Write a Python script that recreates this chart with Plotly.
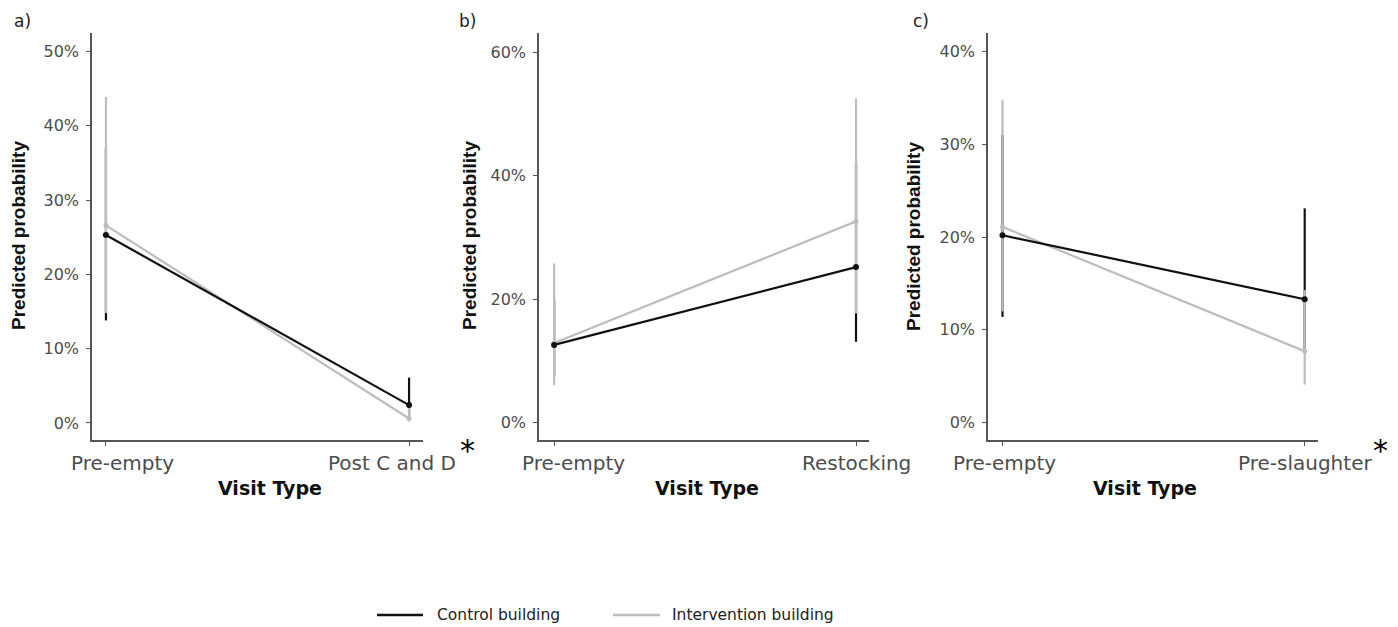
import plotly.graph_objects as go

W, H = 1398, 627

# ---------------- data (predicted probabilities) ----------------
cats_a = ["Pre-empty", "Post C and D"]
ctrl_a = [0.253, 0.024]
ctrl_a_lo = [0.138, 0.010]
ctrl_a_hi = [0.370, 0.061]
int_a = [0.266, 0.006]
int_a_lo = [0.148, 0.002]
int_a_hi = [0.439, 0.020]

cats_b = ["Pre-empty", "Restocking"]
ctrl_b = [0.126, 0.252]
ctrl_b_lo = [0.075, 0.131]
ctrl_b_hi = [0.200, 0.420]
int_b = [0.129, 0.326]
int_b_lo = [0.061, 0.177]
int_b_hi = [0.258, 0.525]

cats_c = ["Pre-empty", "Pre-slaughter"]
ctrl_c = [0.202, 0.133]
ctrl_c_lo = [0.114, 0.075]
ctrl_c_hi = [0.310, 0.231]
int_c = [0.211, 0.077]
int_c_lo = [0.120, 0.041]
int_c_hi = [0.348, 0.143]

yticks_a = [0, 0.1, 0.2, 0.3, 0.4, 0.5]
yticks_b = [0, 0.2, 0.4, 0.6]
yticks_c = [0, 0.1, 0.2, 0.3, 0.4]

series_names = ["Control building", "Intervention building"]

BLACK = "#111111"
GREY = "#bdbdbd"
FONT = "DejaVu Sans"

panels = [
    dict(cats=cats_a, c=ctrl_a, clo=ctrl_a_lo, chi=ctrl_a_hi, i=int_a, ilo=int_a_lo, ihi=int_a_hi,
         yr=[-0.023, 0.525], yt=yticks_a, dom=[92, 423], xr=[-0.046, 1.046], lshift=[17, -17]),
    dict(cats=cats_b, c=ctrl_b, clo=ctrl_b_lo, chi=ctrl_b_hi, i=int_b, ilo=int_b_lo, ihi=int_b_hi,
         yr=[-0.028, 0.631], yt=yticks_b, dom=[539, 869], xr=[-0.05, 1.043], lshift=[19, 0]),
    dict(cats=cats_c, c=ctrl_c, clo=ctrl_c_lo, chi=ctrl_c_hi, i=int_c, ilo=int_c_lo, ihi=int_c_hi,
         yr=[-0.0187, 0.420], yt=yticks_c, dom=[988, 1318], xr=[-0.048, 1.044], lshift=[2, 0]),
]

fig = go.Figure()
ydom = [1 - 440 / H, 1 - 33 / H]
annos = []
shapes = []

for k, p in enumerate(panels):
    n = "" if k == 0 else str(k + 1)
    xa, ya = "x" + n, "y" + n
    # error bars (control below, intervention on top)
    for vals, lo, hi, col in [(p["c"], p["clo"], p["chi"], BLACK), (p["i"], p["ilo"], p["ihi"], GREY)]:
        fig.add_trace(go.Scatter(
            x=p["cats"], y=vals, mode="markers",
            marker=dict(size=1, color="rgba(0,0,0,0)"),
            error_y=dict(type="data", symmetric=False,
                         array=[h - v for h, v in zip(hi, vals)],
                         arrayminus=[v - l for v, l in zip(vals, lo)],
                         width=0, thickness=2.2, color=col),
            showlegend=False, hoverinfo="skip", xaxis=xa, yaxis=ya))
    # intervention line + points
    fig.add_trace(go.Scatter(
        x=p["cats"], y=p["i"], mode="lines+markers", name=series_names[1],
        line=dict(color=GREY, width=2.2), marker=dict(size=5, color=GREY),
        showlegend=False, xaxis=xa, yaxis=ya))
    # control line + points
    fig.add_trace(go.Scatter(
        x=p["cats"], y=p["c"], mode="lines+markers", name=series_names[0],
        line=dict(color=BLACK, width=2.2), marker=dict(size=6, color=BLACK),
        showlegend=False, xaxis=xa, yaxis=ya))

    axis_common = dict(showline=True, linecolor="#555555", linewidth=1.5, ticks="outside",
                       ticklen=4, tickcolor="#555555", tickwidth=1.2,
                       showgrid=False, zeroline=False, automargin=False)
    fig.update_layout(**{
        ("xaxis" + n): dict(domain=[p["dom"][0] / W, p["dom"][1] / W], anchor=ya,
                            type="category", categoryorder="array", categoryarray=p["cats"],
                            range=p["xr"], showticklabels=False, **axis_common),
        ("yaxis" + n): dict(domain=ydom, anchor=xa, range=p["yr"], tickvals=p["yt"],
                            tickformat=".0%", ticklabelstandoff=4,
                            tickfont=dict(family=FONT, size=16, color="#4d4d4d"),
                            **axis_common),
    })
    # category labels (annotations tied to the category positions)
    for cat, sh in zip(p["cats"], p["lshift"]):
        annos.append(dict(text=cat, x=cat, xref=xa, y=1 - 463 / H, yref="paper",
                          xshift=sh, showarrow=False, xanchor="center", yanchor="middle",
                          font=dict(family=FONT, size=20, color="#4d4d4d")))

# panel letters
for txt, px in [("a)", 22), ("b)", 467), ("c)", 921)]:
    annos.append(dict(text=txt, x=px / W, y=1 - 21 / H, xref="paper", yref="paper",
                      showarrow=False, font=dict(family=FONT, size=17, color="#222222"),
                      xanchor="center", yanchor="middle"))
# x titles
for px in [270, 707, 1145]:
    annos.append(dict(text="<b>Visit Type</b>", x=px / W, y=1 - 488 / H, xref="paper", yref="paper",
                      showarrow=False, font=dict(family=FONT, size=19, color="#111111"),
                      xanchor="center", yanchor="middle"))
# y titles
for px in [18, 469, 913]:
    annos.append(dict(text="<b>Predicted probability</b>", x=px / W, y=1 - 236 / H,
                      xref="paper", yref="paper", textangle=-90, showarrow=False,
                      font=dict(family="Liberation Sans", size=19, color="#111111"),
                      xanchor="center", yanchor="middle"))
# significance asterisks
for px in [467, 1380]:
    annos.append(dict(text="*", x=px / W, y=1 - 450 / H, xref="paper", yref="paper",
                      showarrow=False, font=dict(family=FONT, size=30, color="#000000"),
                      xanchor="center", yanchor="middle"))

# legend (key lines + labels)
ly = 1 - 615 / H
for name, col, x0, x1, tx in [(series_names[0], BLACK, 377, 423, 435),
                              (series_names[1], GREY, 613, 660, 670)]:
    shapes.append(dict(type="line", xref="paper", yref="paper", x0=x0 / W, x1=x1 / W,
                       y0=ly, y1=ly, line=dict(color=col, width=2.5)))
    annos.append(dict(text=name, x=tx / W, y=ly, xref="paper", yref="paper", showarrow=False,
                      xanchor="left", yanchor="middle",
                      font=dict(family=FONT, size=15.5, color="#222222")))

fig.update_layout(
    width=W, height=H,
    margin=dict(l=0, r=0, t=0, b=0, autoexpand=False),
    paper_bgcolor="white", plot_bgcolor="white",
    annotations=annos, shapes=shapes, showlegend=False,
)

fig.write_html("out.html", config={"displayModeBar": False},
               post_script="document.body.style.margin='0';document.body.style.overflow='hidden';")
